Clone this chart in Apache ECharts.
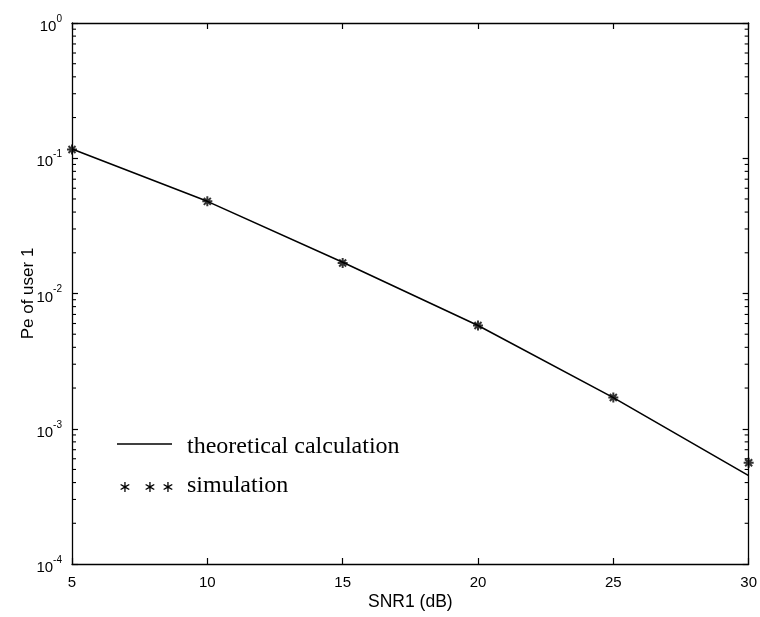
<!DOCTYPE html>
<html>
<head>
<meta charset="utf-8">
<script src="https://cdn.jsdelivr.net/npm/echarts@6/dist/echarts.min.js"></script>
<style>
  html, body { margin: 0; padding: 0; background: #fff; }
  #chart { width: 760px; height: 617px; }
</style>
</head>
<body>
<div id="chart"></div>
<script>
// SNR of user 1 in dB
const snrDb = [5, 10, 15, 20, 25, 30];
// Bit error probability of user 1: analytical curve
const theoretical = [0.117, 0.048, 0.0170, 0.0058, 0.0017, 0.00045];
// Bit error probability of user 1: Monte-Carlo simulation
const simulated = [0.116, 0.048, 0.0168, 0.0058, 0.0017, 0.00056];
// Decade exponents shown on the y axis
const yExponents = [0, -1, -2, -3, -4];
// x tick labels
const xTicks = [5, 10, 15, 20, 25, 30];
// Mantissas used for the logarithmic minor ticks
const minorMantissas = [2, 3, 4, 5, 6, 7, 8, 9];

const minorValues = [];
for (let e = -4; e < 0; e++) {
  minorMantissas.forEach(m => minorValues.push([snrDb[0], m * Math.pow(10, e)]));
}

const sansFont = '"Liberation Sans", Arial, Helvetica, sans-serif';
const serifFont = '"Liberation Serif", "Times New Roman", serif';
const ink = '#000';

const asteriskPath = 'path://M5 0L5 10M0 5L10 5M1.5 1.5L8.5 8.5M1.5 8.5L8.5 1.5';

const chart = echarts.init(document.getElementById('chart'), null, { renderer: 'canvas' });

const axisLine = { show: true, lineStyle: { color: ink, width: 1.3 } };
const tickStyle = { show: true, inside: true, length: 6, lineStyle: { color: ink, width: 1.2 } };

const legendStar = x => ({
  type: 'text', x: x, y: 488,
  style: { text: '∗', font: '16px "DejaVu Sans"', fill: ink, textAlign: 'center', textVerticalAlign: 'middle' }
});

chart.setOption({
  animation: false,
  backgroundColor: '#fff',
  grid: { left: 72, right: 11, top: 23, bottom: 53, containLabel: false },
  xAxis: [{
    type: 'value',
    min: xTicks[0],
    max: xTicks[xTicks.length - 1],
    interval: 5,
    axisLine: axisLine,
    axisTick: tickStyle,
    splitLine: { show: false },
    axisLabel: {
      color: ink, fontFamily: sansFont, fontSize: 15, margin: 11,
      formatter: v => xTicks.indexOf(v) >= 0 ? String(v) : ''
    },
    name: 'SNR1 (dB)',
    nameLocation: 'middle',
    nameGap: 29,
    nameMoveOverlap: false,
    nameTextStyle: { color: ink, fontFamily: sansFont, fontSize: 17.5 }
  }, {
    type: 'value',
    position: 'top',
    min: xTicks[0],
    max: xTicks[xTicks.length - 1],
    interval: 5,
    axisLine: axisLine,
    axisTick: tickStyle,
    axisLabel: { show: false },
    splitLine: { show: false }
  }],
  yAxis: [{
    type: 'log',
    logBase: 10,
    min: Math.pow(10, yExponents[yExponents.length - 1]),
    max: Math.pow(10, yExponents[0]),
    interval: 1,
    axisLine: axisLine,
    axisTick: tickStyle,
    splitLine: { show: false },
    axisLabel: {
      margin: 10,
      padding: [8, 0, 0, 0],
      formatter: v => {
        const e = Math.round(Math.log10(v));
        return '{b|10}{s|' + (e < 0 ? '-' + (-e) : e) + '}';
      },
      rich: {
        b: { color: ink, fontFamily: sansFont, fontSize: 15, lineHeight: 26 },
        s: { color: ink, fontFamily: sansFont, fontSize: 10, lineHeight: 10, verticalAlign: 'top' }
      }
    },
    name: 'Pe of user 1',
    nameLocation: 'middle',
    nameGap: 35,
    nameMoveOverlap: false,
    nameTextStyle: { color: ink, fontFamily: sansFont, fontSize: 17 }
  }, {
    type: 'log',
    logBase: 10,
    position: 'right',
    min: Math.pow(10, yExponents[yExponents.length - 1]),
    max: Math.pow(10, yExponents[0]),
    interval: 1,
    axisLine: axisLine,
    axisTick: tickStyle,
    axisLabel: { show: false },
    splitLine: { show: false }
  }],
  series: [{
    name: 'minor ticks',
    type: 'custom',
    xAxisIndex: 0,
    yAxisIndex: 0,
    silent: true,
    clip: false,
    data: minorValues,
    renderItem: (params, api) => {
      const v = api.value(1);
      const left = api.coord([snrDb[0], v]);
      const right = api.coord([snrDb[snrDb.length - 1], v]);
      return {
        type: 'group',
        children: [
          { type: 'line', shape: { x1: left[0], y1: left[1], x2: left[0] + 4, y2: left[1] }, style: { stroke: ink, lineWidth: 1.1 } },
          { type: 'line', shape: { x1: right[0], y1: right[1], x2: right[0] - 4, y2: right[1] }, style: { stroke: ink, lineWidth: 1.1 } }
        ]
      };
    }
  }, {
    name: 'theoretical calculation',
    type: 'line',
    xAxisIndex: 0,
    yAxisIndex: 0,
    data: snrDb.map((x, i) => [x, theoretical[i]]),
    showSymbol: false,
    clip: false,
    lineStyle: { color: ink, width: 1.6 }
  }, {
    name: 'simulation',
    type: 'scatter',
    xAxisIndex: 0,
    yAxisIndex: 0,
    data: snrDb.map((x, i) => [x, simulated[i]]),
    symbol: asteriskPath,
    symbolSize: 10,
    clip: false,
    itemStyle: { color: 'rgba(0,0,0,0)', borderColor: ink, borderWidth: 2 }
  }],
  graphic: [
    { type: 'line', shape: { x1: 117, y1: 444, x2: 172, y2: 444 }, style: { stroke: ink, lineWidth: 1.4 } },
    { type: 'text', x: 187, y: 447, style: { text: 'theoretical calculation', font: '24px ' + serifFont, fill: ink, textVerticalAlign: 'middle' } },
    legendStar(125),
    legendStar(150),
    legendStar(168),
    { type: 'text', x: 187, y: 486, style: { text: 'simulation', font: '24px ' + serifFont, fill: ink, textVerticalAlign: 'middle' } }
  ]
});
</script>
</body>
</html>
